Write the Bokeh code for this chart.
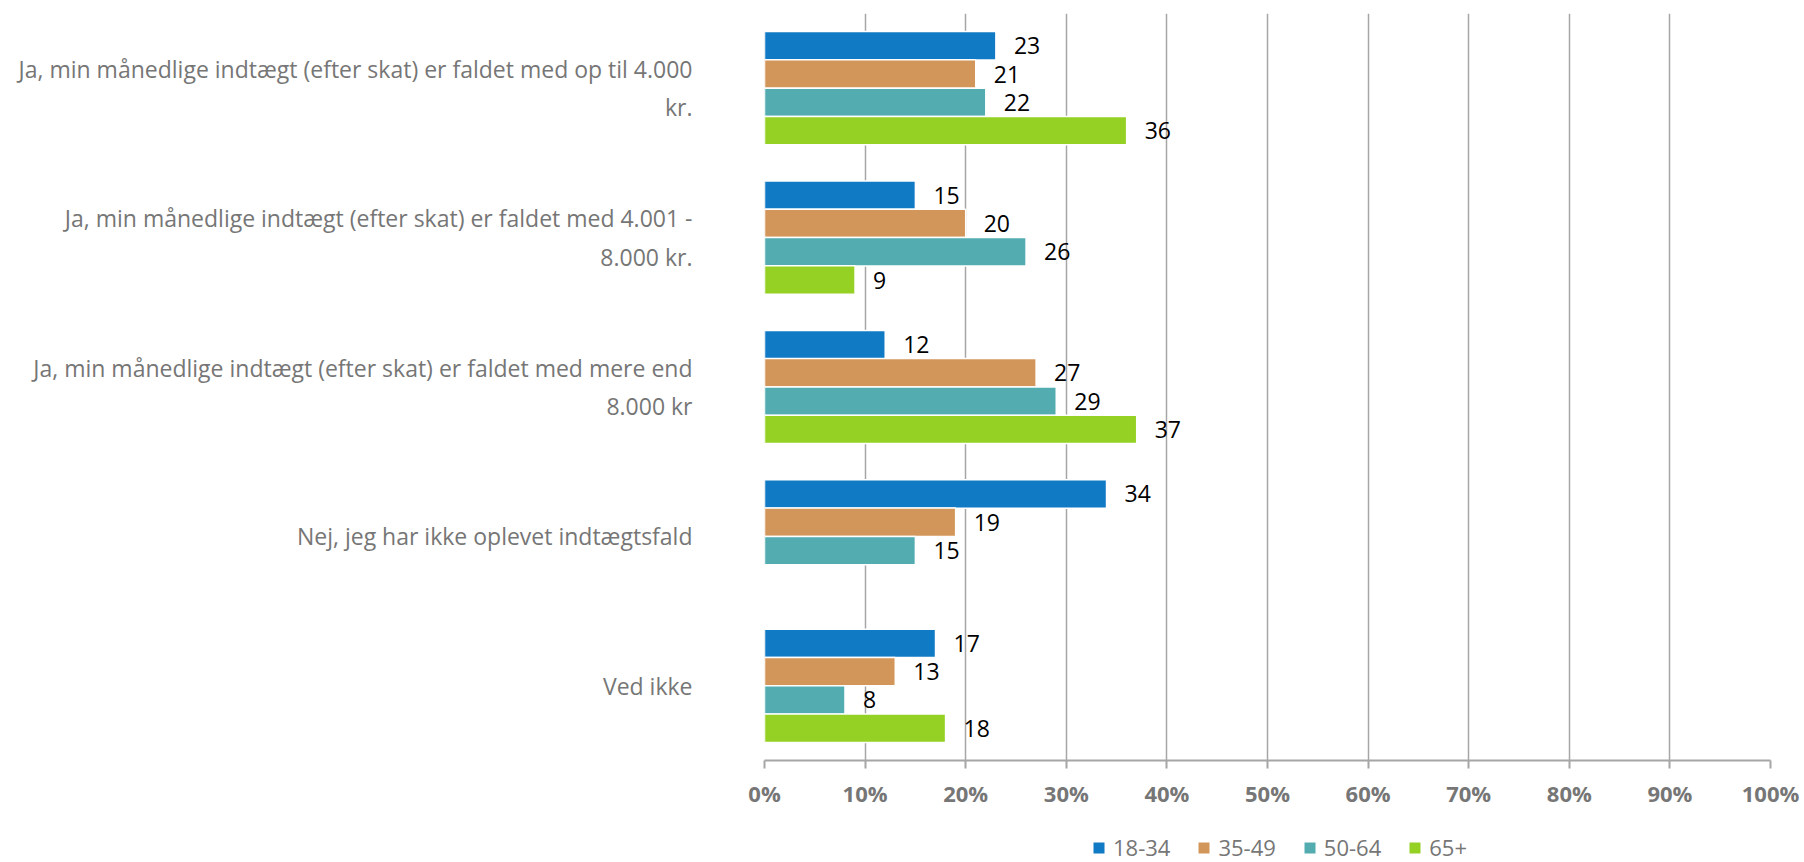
from bokeh.plotting import figure
from bokeh.layouts import column
from bokeh.models import ColumnDataSource, FactorRange, Range1d, FixedTicker, Legend, LegendItem, PrintfTickFormatter
from bokeh.transform import dodge
from bokeh.core.properties import value
from bokeh.embed import file_html
from bokeh.resources import INLINE

categories = [
    "Ja, min månedlige indtægt (efter skat) er faldet med op til 4.000\nkr.",
    "Ja, min månedlige indtægt (efter skat) er faldet med 4.001 -\n8.000 kr.",
    "Ja, min månedlige indtægt (efter skat) er faldet med mere end\n8.000 kr",
    "Nej, jeg har ikke oplevet indtægtsfald",
    "Ved ikke",
]
series_names = ["18-34", "35-49", "50-64", "65+"]
age_18_34 = [23, 15, 12, 34, 17]
age_35_49 = [21, 20, 27, 19, 13]
age_50_64 = [22, 26, 29, 15, 8]
age_65_plus = [36, 9, 37, None, 18]
x_ticks = [0, 10, 20, 30, 40, 50, 60, 70, 80, 90, 100]

series_values = [age_18_34, age_35_49, age_50_64, age_65_plus]
colors = ["#117AC5", "#D3965A", "#53ACB0", "#95D124"]
offsets = [0.284, 0.095, -0.095, -0.284]

FONT = "Open Sans"
GREY = "#767676"

p = figure(
    width=1804, height=810,
    y_range=FactorRange(factors=list(reversed(categories)), range_padding=0),
    x_range=Range1d(0, 100),
    output_backend="svg", toolbar_location=None,
    min_border_left=764, min_border_right=34, min_border_top=13, min_border_bottom=50,
)
p.outline_line_color = None
p.background_fill_color = "white"

for name, vals, col, off in zip(series_names, series_values, colors, offsets):
    cats = [c for c, v in zip(categories, vals) if v is not None]
    vs = [v for v in vals if v is not None]
    src = ColumnDataSource(dict(cat=cats, val=vs, lab=[str(v) for v in vs]))
    p.hbar(y=dodge("cat", off, range=p.y_range), right="val", left=0, height=0.19,
           source=src, fill_color=col, line_color="white", line_width=1.5)
    p.text(x="val", y=dodge("cat", off, range=p.y_range), text="lab", source=src,
           x_offset=18, text_baseline="middle", text_align="left",
           text_font=value(FONT), text_font_size="23px", text_color="#000000")

# axes
p.xaxis.ticker = FixedTicker(ticks=x_ticks)
p.xaxis.formatter = PrintfTickFormatter(format="%d%%")
p.xaxis.major_label_text_font = FONT
p.xaxis.major_label_text_font_style = "bold"
p.xaxis.major_label_text_font_size = "22px"
p.xaxis.major_label_text_color = GREY
p.xaxis.axis_line_color = "#a6a6a6"
p.xaxis.axis_line_width = 2
p.xaxis.major_tick_line_color = "#a6a6a6"
p.xaxis.major_tick_line_width = 2
p.xaxis.major_tick_out = 8
p.xaxis.major_tick_in = 0
p.xaxis.minor_tick_line_color = None
p.xaxis.major_label_standoff = 9

p.yaxis.axis_line_color = None
p.yaxis.major_tick_line_color = None
p.yaxis.minor_tick_line_color = None
p.yaxis.major_label_text_font = FONT
p.yaxis.major_label_text_font_size = "23px"
p.yaxis.major_label_text_color = GREY
p.yaxis.major_label_standoff = 66

p.ygrid.grid_line_color = None
p.xgrid.ticker = FixedTicker(ticks=x_ticks)
p.xgrid.grid_line_color = "#a6a6a6"
p.xgrid.grid_line_width = 1.5

# legend strip (frame aligned with the chart's frame)
lg = figure(width=1804, height=52, x_range=Range1d(0, 1), y_range=Range1d(0, 1),
            output_backend="svg", toolbar_location=None,
            min_border_left=764, min_border_right=34, min_border_top=0, min_border_bottom=0)
lg.axis.visible = False
lg.grid.visible = False
lg.outline_line_color = None
items = []
for name, col in zip(series_names, colors):
    # placeholder renderer kept outside the visible range; only its legend swatch shows
    r = lg.hbar(y=[-10], right=[-9], left=[-10], height=0.5, fill_color=col, line_color="white", line_width=1)
    items.append(LegendItem(label=name, renderers=[r]))
legend = Legend(items=items, orientation="horizontal", location=(327, 0),
                glyph_width=15, glyph_height=15, label_standoff=7, spacing=26,
                label_text_font=FONT, label_text_font_size="22px", label_text_color=GREY,
                border_line_color=None, background_fill_alpha=0, padding=0, margin=0)
lg.add_layout(legend, "center")

layout = column(p, lg, spacing=0)
open("out.html", "w").write(file_html(layout, INLINE))
